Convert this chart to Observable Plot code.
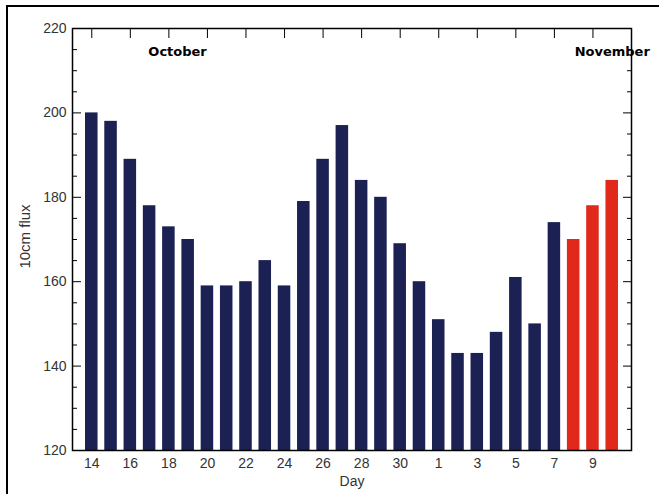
<!DOCTYPE html>
<html><head><meta charset="utf-8">
<script src="https://cdn.jsdelivr.net/npm/d3@7"></script>
<script src="https://cdn.jsdelivr.net/npm/@observablehq/plot@0.6"></script>
<style>
body{margin:0;background:#fff;}
#wrap{position:relative;width:659px;height:494px;overflow:hidden;background:#fff;}
#border{position:absolute;left:6px;top:5px;width:800px;height:700px;border-top:2px solid #000;border-left:2px solid #000;}
#chart{position:absolute;left:0;top:0;}
</style></head><body>
<div id="wrap"><div id="border"></div><div id="chart"></div></div>
<script>
const days = [14,15,16,17,18,19,20,21,22,23,24,25,26,27,28,29,30,31,1,2,3,4,5,6,7,8,9,10];
const flux = [200,198,189,178,173,170,159,159,160,165,159,179,189,197,184,180,169,160,151,143,143,148,161,150,174,170,178,184];
const kind = ["observed","observed","observed","observed","observed","observed","observed","observed","observed","observed","observed","observed","observed","observed","observed","observed","observed","observed","observed","observed","observed","observed","observed","observed","observed","predicted","predicted","predicted"];
const yTicks = [120,140,160,180,200,220];
const yMinor = [125,130,135,145,150,155,165,170,175,185,190,195,205,210,215];
const xTickLabels = ["14","16","18","20","22","24","26","28","30","1","3","5","7","9"];
const months = ["October","November"];

const data = days.map((d,i)=>({i, day:d, flux:flux[i], kind:kind[i]}));
const xTicks = xTickLabels.map((_,k)=>k*2);
const monthFont = {frameAnchor:"top", dy:18, text:d=>d, fontFamily:"'DejaVu Sans', sans-serif", fontWeight:"bold", fontSize:13, fill:"#000"};

const chart = Plot.plot({
  width:659, height:494,
  marginLeft:72, marginRight:28, marginTop:28, marginBottom:44,
  x:{type:"linear", domain:[-1,28], axis:null},
  y:{domain:[120,220], axis:null, label:null},
  color:{domain:["observed","predicted"], range:["#1b2152","#e0291b"]},
  style:{fontFamily:"'Liberation Sans', Arial, sans-serif", fontSize:"14px", color:"#333", background:"transparent"},
  marks:[
    Plot.axisX(xTicks, {anchor:"bottom", tickSize:-9, text:null, label:null}),
    Plot.rectY(data, {x1:d=>d.i-0.325, x2:d=>d.i+0.325, y1:yTicks[0], y2:"flux", fill:"kind"}),
    Plot.axisY(yTicks, {anchor:"left", tickSize:0, tickPadding:6, label:null, fill:"#333"}),
    Plot.axisY(yTicks, {anchor:"left", tickSize:-9, text:null, label:null, stroke:"#000"}),
    Plot.axisY(yMinor, {anchor:"left", tickSize:-5, text:null, label:null, stroke:"#000"}),
    Plot.axisY(yTicks, {anchor:"right", tickSize:-9, text:null, label:null, stroke:"#000"}),
    Plot.axisY(yMinor, {anchor:"right", tickSize:-5, text:null, label:null, stroke:"#000"}),
    Plot.axisX(xTicks, {anchor:"top", tickSize:-9, text:null, label:null, stroke:"#000"}),
    Plot.axisX(xTicks, {anchor:"bottom", tickSize:0, tickPadding:8, tickFormat:i=>xTickLabels[i/2], label:null, fill:"#333"}),
    Plot.frame({stroke:"#000", strokeWidth:1.5}),
    Plot.text([months[0]], {...monthFont, x:()=>4.45, textAnchor:"middle"}),
    Plot.text([months[1]], {...monthFont, x:()=>25.05, textAnchor:"start"}),
    Plot.text(["10cm flux"], {frameAnchor:"left", textAnchor:"middle", rotate:-90, dx:-47, dy:-3, fontSize:15, fill:"#333"}),
    Plot.text(["Day"], {frameAnchor:"bottom", dy:35, fontSize:14, fill:"#333"})
  ]
});
document.getElementById("chart").appendChild(chart);
</script>
</body></html>
